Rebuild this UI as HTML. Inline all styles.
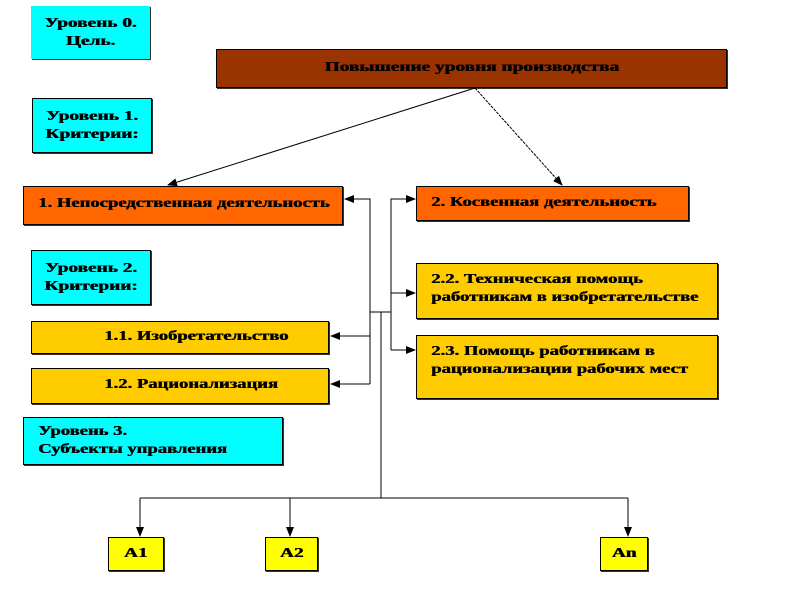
<!DOCTYPE html>
<html><head><meta charset="utf-8"><style>
body{margin:0;width:800px;height:600px;background:#fff;position:relative;overflow:hidden;font-family:"Liberation Serif","DejaVu Serif",serif;font-weight:bold;font-size:14px;color:#000}
.b{position:absolute;box-sizing:border-box;border:1px solid #000;box-shadow:1px 1px 0 #333;line-height:18px;white-space:nowrap}
.c{background:#00ffff;border-color:#888;text-align:center;display:flex;align-items:center;justify-content:center}
.o{background:#ff6600}
.y{background:#ffcc00}
.l{background:#ffff00;text-align:center;display:flex;align-items:center;justify-content:center}
.s{display:inline-block;transform:scaleX(1.33);transform-origin:left center;text-shadow:0.5px 0 0 #000}
.m{display:inline-block;transform:scaleX(1.38);transform-origin:center center;text-shadow:0.5px 0 0 #000}
svg{position:absolute;left:0;top:0}
</style></head><body>
<div class="b c" style="left:31px;top:6px;width:119px;height:53px;border:none"><span class="m">Уровень 0.<br>Цель.</span></div>
<div class="b c" style="left:32px;top:98px;width:120px;height:55px;border-color:#000"><span class="m">Уровень 1.<br>Критерии:</span></div>
<div class="b c" style="left:31px;top:250px;width:120px;height:55px;border-color:#000"><span class="m">Уровень 2.<br>Критерии:</span></div>
<div class="b c" style="left:23px;top:417px;width:260px;height:48px;border-color:#000;justify-content:flex-start;text-align:left;padding-left:14px"><span class="s">Уровень 3.<br>Субъекты управления</span></div>
<div class="b" style="left:216px;top:49px;width:511px;height:39px;background:#993300;text-align:center;padding-top:9px"><span class="m">Повышение уровня производства</span></div>
<div class="b o" style="left:23px;top:186px;width:320px;height:39px;padding:8px 0 0 14px"><span class="s">1. Непосредственная деятельность</span></div>
<div class="b o" style="left:416px;top:186px;width:273px;height:35px;padding:7px 0 0 14px"><span class="s">2. Косвенная деятельность</span></div>
<div class="b y" style="left:416px;top:263px;width:302px;height:56px;padding:7px 0 0 14px"><span class="s">2.2. Техническая помощь<br>работникам в изобретательстве</span></div>
<div class="b y" style="left:416px;top:335px;width:302px;height:64px;padding:7px 0 0 14px"><span class="s">2.3. Помощь работникам в<br>рационализации рабочих мест</span></div>
<div class="b y" style="left:31px;top:321px;width:298px;height:33px;padding:6px 0 0 72px"><span class="s">1.1. Изобретательство</span></div>
<div class="b y" style="left:31px;top:368px;width:298px;height:36px;padding:7px 0 0 72px"><span class="s">1.2. Рационализация</span></div>
<div class="b l" style="left:108px;top:537px;width:56px;height:34px"><span class="m">А1</span></div>
<div class="b l" style="left:265px;top:537px;width:53px;height:34px"><span class="m">А2</span></div>
<div class="b l" style="left:600px;top:537px;width:48px;height:34px"><span class="m">Аn</span></div>
<svg width="800" height="600">
<defs><marker id="a" markerWidth="10" markerHeight="8" refX="9" refY="4" orient="auto" markerUnits="userSpaceOnUse"><path d="M0,0L10,4L0,8z" fill="#000"/></marker></defs>
<g stroke="#000" stroke-width="1" fill="none">
<line x1="475" y1="88" x2="168" y2="185" marker-end="url(#a)"/>
<line x1="475" y1="88" x2="562" y2="185" stroke-dasharray="3,1" marker-end="url(#a)"/>
<polyline points="370,384 370,199 345,199" marker-end="url(#a)"/>
<line x1="370" y1="336" x2="331" y2="336" marker-end="url(#a)"/>
<line x1="370" y1="384" x2="331" y2="384" marker-end="url(#a)"/>
<polyline points="391,350 391,199 415,199" marker-end="url(#a)"/>
<line x1="391" y1="293" x2="415" y2="293" marker-end="url(#a)"/>
<line x1="391" y1="350" x2="415" y2="350" marker-end="url(#a)"/>
<line x1="370" y1="312" x2="391" y2="312"/>
<line x1="381" y1="312" x2="381" y2="498"/>
<line x1="140" y1="498" x2="628" y2="498"/>
<line x1="140" y1="498" x2="140" y2="536" marker-end="url(#a)"/>
<line x1="290" y1="498" x2="290" y2="536" marker-end="url(#a)"/>
<line x1="628" y1="498" x2="628" y2="536" marker-end="url(#a)"/>
</g></svg>
</body></html>
